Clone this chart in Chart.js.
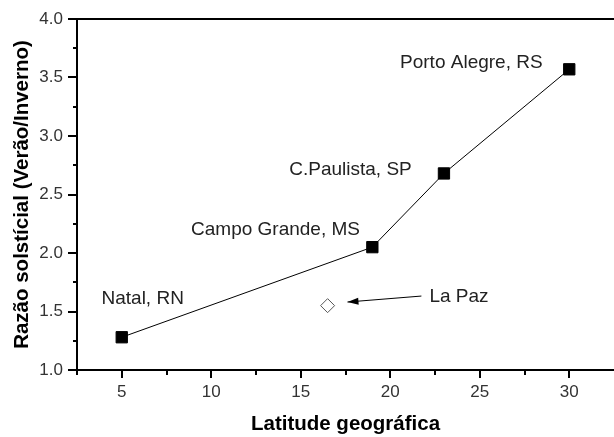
<!DOCTYPE html>
<html><head><meta charset="utf-8">
<script src="https://cdn.jsdelivr.net/npm/chart.js@4/dist/chart.umd.min.js"></script>
<style>html,body{margin:0;padding:0;background:#fff}#wrap{width:614px;height:437px}</style>
</head><body><div id="wrap"><canvas id="c" width="614" height="437"></canvas></div>
<script>
// ---- data ----
const cities = ['Natal, RN', 'Campo Grande, MS', 'C.Paulista, SP', 'Porto Alegre, RS'];
const latitude = [5, 19, 23, 30];
const ratio = [1.28, 2.05, 2.68, 3.57];
const laPazName = 'La Paz';
const laPazLatitude = [16.5];
const laPazRatio = [1.55];
const xTickValues = [5, 10, 15, 20, 25, 30];
const yTickValues = [1.0, 1.5, 2.0, 2.5, 3.0, 3.5, 4.0];
const xTitle = 'Latitude geográfica';
const yTitle = 'Razão solstícial (Verão/Inverno)';

// ---- annotation placement (data units) ----
const cityLabelPos = [[6.17, 1.564], [13.59, 2.154], [17.78, 2.667], [24.53, 3.58]];
const laPazLabelPos = [22.19, 1.58];
const arrowFrom = [21.74, 1.632];
const arrowTo = [17.61, 1.581];

const annot = {
  id: 'annot',
  afterDraw(chart) {
    const {ctx, chartArea: a, scales: {x, y}} = chart;
    ctx.save();
    ctx.strokeStyle = '#000';
    ctx.fillStyle = '#000';
    ctx.lineWidth = 2;
    ctx.beginPath();
    ctx.moveTo(a.left, a.top); ctx.lineTo(a.left, a.bottom + 1);
    ctx.moveTo(a.left - 1, a.bottom); ctx.lineTo(a.right, a.bottom);
    ctx.moveTo(a.left - 1, a.top); ctx.lineTo(a.right, a.top);
    ctx.stroke();
    ctx.beginPath();
    const xs = x.ticks.map(t => t.value);
    const xstep = xs[1] - xs[0];
    for (let v = x.min; v <= x.max + 1e-9; v += xstep / 2) {
      const px = Math.round(x.getPixelForValue(v));
      if (px > a.right - 3) continue;
      const major = xs.some(t => Math.abs(t - v) < 1e-6);
      ctx.moveTo(px, a.bottom); ctx.lineTo(px, a.bottom + (major ? 8 : 5));
    }
    const ys = y.ticks.map(t => t.value);
    const ystep = ys[1] - ys[0];
    for (let v = y.min; v <= y.max + 1e-9; v += ystep / 2) {
      const py = Math.round(y.getPixelForValue(v));
      const major = ys.some(t => Math.abs(t - v) < 1e-6);
      ctx.moveTo(a.left, py); ctx.lineTo(a.left - (major ? 9 : 4), py);
    }
    ctx.stroke();
    ctx.fillStyle = '#222';
    ctx.font = '19px "Liberation Sans", Arial, sans-serif';
    ctx.textAlign = 'center';
    ctx.textBaseline = 'alphabetic';
    cities.forEach((c, i) => {
      ctx.fillText(c, x.getPixelForValue(cityLabelPos[i][0]), y.getPixelForValue(cityLabelPos[i][1]));
    });
    ctx.textAlign = 'left';
    ctx.fillText(laPazName, x.getPixelForValue(laPazLabelPos[0]), y.getPixelForValue(laPazLabelPos[1]));
    const x1 = x.getPixelForValue(arrowFrom[0]), y1 = y.getPixelForValue(arrowFrom[1]);
    const x2 = x.getPixelForValue(arrowTo[0]), y2 = y.getPixelForValue(arrowTo[1]);
    ctx.strokeStyle = '#000'; ctx.lineWidth = 1;
    ctx.beginPath(); ctx.moveTo(x1, y1); ctx.lineTo(x2, y2); ctx.stroke();
    const ang = Math.atan2(y2 - y1, x2 - x1);
    const L = 11, W = 3.5;
    ctx.fillStyle = '#000';
    ctx.beginPath();
    ctx.moveTo(x2, y2);
    ctx.lineTo(x2 - L * Math.cos(ang) + W * Math.sin(ang), y2 - L * Math.sin(ang) - W * Math.cos(ang));
    ctx.lineTo(x2 - L * Math.cos(ang) - W * Math.sin(ang), y2 - L * Math.sin(ang) + W * Math.cos(ang));
    ctx.closePath(); ctx.fill();
    ctx.restore();
  }
};

new Chart(document.getElementById('c'), {
  type: 'scatter',
  data: {
    datasets: [
      {
        label: 'cities',
        data: latitude.map((v, i) => ({x: v, y: ratio[i]})),
        showLine: true,
        borderColor: '#000',
        borderWidth: 1,
        pointStyle: 'rect',
        pointRadius: 8,
        pointBackgroundColor: '#000',
        pointBorderColor: '#000',
        pointBorderWidth: 1
      },
      {
        label: laPazName,
        data: laPazLatitude.map((v, i) => ({x: v, y: laPazRatio[i]})),
        showLine: false,
        pointStyle: 'rectRot',
        pointRadius: 7,
        pointBackgroundColor: '#fff',
        pointBorderColor: '#555',
        pointBorderWidth: 1
      }
    ]
  },
  options: {
    responsive: false,
    animation: false,
    devicePixelRatio: 1,
    layout: {autoPadding: false, padding: {top: 19, right: 0, left: 0, bottom: 0}},
    plugins: {legend: {display: false}, tooltip: {enabled: false}},
    scales: {
      x: {
        type: 'linear', min: 2.5, max: 32.5,
        grid: {display: false, drawTicks: false},
        border: {display: false},
        afterBuildTicks: s => { s.ticks = xTickValues.map(v => ({value: v})); },
        afterFit: s => { s.height = 67; s.paddingLeft = 0; s.paddingRight = 0; },
        ticks: {autoSkip: false, maxRotation: 0, padding: 12, color: '#333',
          font: {family: '"Liberation Sans", Arial, sans-serif', size: 17}},
        title: {display: true, text: xTitle, color: '#000', padding: {top: 0, bottom: 0},
          font: {family: '"Liberation Sans", Arial, sans-serif', size: 20.5, weight: 'bold'}}
      },
      y: {
        type: 'linear', min: 1.0, max: 4.0,
        grid: {display: false, drawTicks: false},
        border: {display: false},
        afterBuildTicks: s => { s.ticks = yTickValues.map(v => ({value: v})); },
        afterFit: s => { s.width = 77; s.paddingTop = 0; s.paddingBottom = 0; },
        ticks: {autoSkip: false, padding: 14, color: '#333',
          callback: v => v.toFixed(1),
          font: {family: '"Liberation Sans", Arial, sans-serif', size: 17}},
        title: {display: true, text: yTitle, color: '#000', padding: {top: 10, bottom: 0},
          font: {family: '"Liberation Sans", Arial, sans-serif', size: 20.5, weight: 'bold'}}
      }
    }
  },
  plugins: [annot]
});
</script></body></html>
